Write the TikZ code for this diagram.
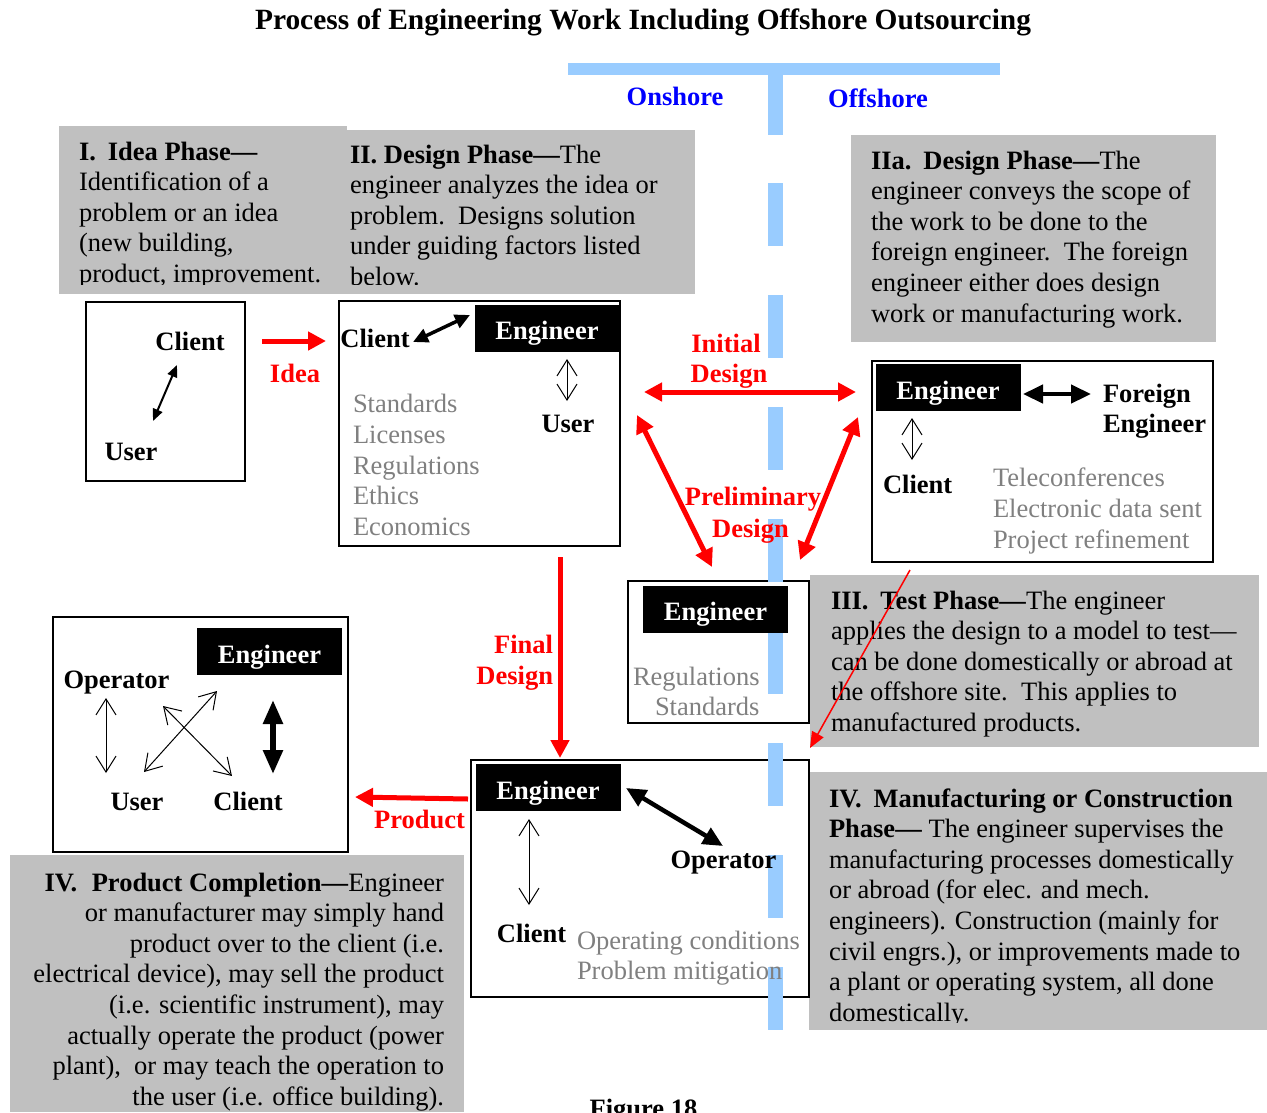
\documentclass[tikz,border=0pt]{standalone}
\usepackage{fontspec}
\setmainfont{Liberation Serif}
\usetikzlibrary{arrows.meta}
\definecolor{shoreblue}{HTML}{99CCFF}
\definecolor{panelgray}{HTML}{C0C0C0}
\definecolor{notegray}{HTML}{808080}
\definecolor{shorelabel}{HTML}{0000FF}
\definecolor{flowred}{HTML}{FF0000}
\newcommand{\fsz}{\fontsize{26.5}{30.6}\selectfont}
\newcommand{\fl}{\rule{0pt}{20pt}}
\begin{document}
\begin{tikzpicture}[x=1pt,y=-1pt,
  every node/.style={inner sep=0pt, outer sep=0pt, font=\fsz},
  panel/.style={fill=panelgray, draw=none},
  frame/.style={draw=black, line width=1.8pt, fill=white},
  engbox/.style={fill=black, text=white, font=\fsz\bfseries, minimum width=145pt, minimum height=47pt, text height=23pt, text depth=0pt},
  role/.style={font=\fsz\bfseries, anchor=base},
  rolew/.style={font=\fsz\bfseries, anchor=base west},
  note/.style={text=notegray, anchor=base west},
  para/.style={align=left, anchor=north west},
  flow/.style={text=flowred, font=\fsz\bfseries, anchor=base},
  shore/.style={text=shorelabel, font=\fsz\bfseries, anchor=base},
  redarrow/.style={draw=flowred, line width=5pt, -{Triangle[length=18pt,width=18pt]}},
  reddouble/.style={draw=flowred, line width=5pt, {Triangle[length=18pt,width=18pt]}-{Triangle[length=18pt,width=18pt]}},
  thinred/.style={draw=flowred, line width=1.5pt, -{Triangle[length=16pt,width=13pt]}},
  openarrow/.style={line width=1pt, {Straight Barb[length=16pt,width=20pt]}-{Straight Barb[length=16pt,width=20pt]}},
  boldarrow/.style={line width=4.5pt, {Triangle[length=20pt,width=18pt]}-{Triangle[length=20pt,width=18pt]}},
  smallboldarrow/.style={line width=3.5pt, {Triangle[length=15pt,width=14pt]}-{Triangle[length=15pt,width=14pt]}},
  bigboldarrow/.style={line width=5.5pt, {Triangle[length=24pt,width=19pt]}-{Triangle[length=24pt,width=19pt]}},
  medarrow/.style={line width=2pt, {Triangle[length=12pt,width=10pt]}-{Triangle[length=12pt,width=10pt]}},
  blueline/.style={draw=shoreblue, line width=15pt}
]
\useasboundingbox (0,0) rectangle (1267,1112);

% ---------- gray panels ----------
\fill[panel] (59,126) rectangle (347,294);
\fill[panel] (347,130) rectangle (695,294);
\fill[panel] (851,135) rectangle (1216,342);
\fill[panel] (810,575) rectangle (1259,747);
\fill[panel] (809,772) rectangle (1267,1030);
\fill[panel] (10,855) rectangle (464,1112);

% ---------- white frames ----------
\draw[frame] (86,302) rectangle (245,481);
\draw[frame] (339,301) rectangle (620,546);
\draw[frame] (872,361) rectangle (1213,562);
\draw[frame] (628,581) rectangle (809,723);
\draw[frame] (471,760) rectangle (809,997);
\draw[frame] (53,617) rectangle (348,852);

% ---------- onshore / offshore divider ----------
\fill[shoreblue] (568,63) rectangle (1000,75);
\fill[shoreblue] (767.5,75) rectangle (782.5,135);
\draw[blueline, dash pattern=on 63pt off 49pt] (775,183) -- (775,1030);

% ---------- title and labels ----------
\node[role, font=\fontsize{29.4}{34}\selectfont\bfseries] (title) at (643,29) {Process of Engineering Work Including Offshore Outsourcing};
\node[shore] (onshore) at (675,105) {Onshore};
\node[shore] (offshore) at (878,107) {Offshore};
\node[role] (figlabel) at (643.5,1117) {Figure 18};

% ---------- panel texts ----------
\begin{scope}
\clip (59,126) rectangle (695,284);
\node[para] (ideatext) at (79,140) {\fl\textbf{I.\hspace{0.45em}Idea Phase—}\\Identification of a\\problem or an idea\\(new building,\\product, improvement.};
\node[para] (designtext) at (350,143) {\fl\textbf{II. Design Phase—}The\\engineer analyzes the idea or\\problem.\ \ Designs solution\\under guiding factors listed\\below.};
\end{scope}
\node[para] (offdesigntext) at (871,149) {\fl\textbf{IIa.\hspace{0.45em}Design Phase—}The\\engineer conveys the scope of\\the work to be done to the\\foreign engineer.\ \ The foreign\\engineer either does design\\work or manufacturing work.};
\node[para] (testtext) at (831,589) {\fl\textbf{III.\hspace{0.45em}Test Phase—}The engineer\\applies the design to a model to test—\\can be done domestically or abroad at\\the offshore site.\ \ This applies to\\manufactured products.};
\begin{scope}
\clip (809,772) rectangle (1267,1022);
\node[para] (mfgtext) at (829,787) {\fl\textbf{IV.\hspace{0.45em}Manufacturing or Construction}\\\textbf{Phase—} The engineer supervises the\\manufacturing processes domestically\\or abroad (for elec. and mech.\\engineers). Construction (mainly for\\civil engrs.), or improvements made to\\a plant or operating system, all done\\domestically.};
\end{scope}
\node[align=right, anchor=north east] (producttext) at (444,871) {\fl\textbf{IV.\hspace{0.55em}Product Completion—}Engineer\\or manufacturer may simply hand\\product over to the client (i.e.\\electrical device), may sell the product\\(i.e. scientific instrument), may\\actually operate the product (power\\plant),\ \ or may teach the operation to\\the user (i.e. office building).};

% ---------- box A : idea ----------
\node[role] (aclient) at (190,350) {Client};
\node[role] (auser) at (131,460) {User};
\coordinate (aA1) at (177,365);
\coordinate (aA2) at (153,421);
\draw[medarrow] (aA1) -- (aA2);

% ---------- box B : design ----------
\node[engbox] (beng) at (547,328) {Engineer};
\node[role] (bclient) at (375,347) {Client};
\node[role] (buser) at (568,432) {User};
\coordinate (bC) at (413,342);
\coordinate (bE) at (470,315);
\draw[smallboldarrow] (bC) -- (bE);
\coordinate (bU1) at (567,359);
\coordinate (bU2) at (567,401);
\draw[openarrow] (bU1) -- (bU2);
\node[note] (bn1) at (353,412) {Standards};
\node[note] (bn2) at (353,443) {Licenses};
\node[note] (bn3) at (353,474) {Regulations};
\node[note] (bn4) at (353,504) {Ethics};
\node[note] (bn5) at (353,535) {Economics};

% ---------- box C : offshore design ----------
\node[engbox] (ceng) at (948,387.5) {Engineer};
\node[rolew] (cforeign1) at (1103,402) {Foreign};
\node[rolew] (cforeign2) at (1103,432) {Engineer};
\node[rolew] (cclient) at (883,493) {Client};
\coordinate (cL) at (1023,394);
\coordinate (cR) at (1091,394);
\draw[boldarrow] (cL) -- (cR);
\coordinate (cU1) at (912,418);
\coordinate (cU2) at (912,460);
\draw[openarrow] (cU1) -- (cU2);
\node[note] (cn1) at (993,486) {Teleconferences};
\node[note] (cn2) at (993,517) {Electronic data sent};
\node[note] (cn3) at (993,548) {Project refinement};

% ---------- box D : test ----------
\node[engbox] (deng) at (715.5,609) {Engineer};
\node[note] (dn1) at (633,685) {Regulations};
\node[note] (dn2) at (655,715) {Standards};

% ---------- box E : manufacturing ----------
\node[engbox] (eeng) at (548,787.5) {Engineer};
\node[role] (eclient) at (531.5,942) {Client};
\node[role] (eoperator) at (723.5,868) {Operator};
\coordinate (eU1) at (529,819);
\coordinate (eU2) at (529,905);
\draw[openarrow] (eU1) -- (eU2);
\coordinate (eO1) at (626,788);
\coordinate (eO2) at (723,846);
\draw[boldarrow] (eO1) -- (eO2);
\node[note] (en1) at (577,949) {Operating conditions};
\node[note] (en2) at (577,979) {Problem mitigation};

% ---------- box F : product ----------
\node[engbox] (feng) at (269.5,651.5) {Engineer};
\node[role] (foperator) at (116.5,688) {Operator};
\node[role] (fuser) at (137,810) {User};
\node[role] (fclient) at (248,810) {Client};
\coordinate (fV1) at (106,698);
\coordinate (fV2) at (106,773);
\draw[openarrow] (fV1) -- (fV2);
\coordinate (fD1) at (217,691);
\coordinate (fD2) at (144,772);
\draw[openarrow] (fD1) -- (fD2);
\coordinate (fD3) at (163,706);
\coordinate (fD4) at (232,776);
\draw[openarrow] (fD3) -- (fD4);
\coordinate (fT1) at (273,700);
\coordinate (fT2) at (273,774);
\draw[bigboldarrow] (fT1) -- (fT2);

% ---------- red flow arrows ----------
\coordinate (idea1) at (262,341);
\coordinate (idea2) at (326,341);
\draw[redarrow] (idea1) -- (idea2);
\node[flow] (idealbl) at (295,382) {Idea};

\coordinate (ini1) at (644,392);
\coordinate (ini2) at (856,392);
\draw[reddouble] (ini1) -- (ini2);
\node[flow] (inilbl1) at (726,352) {Initial};
\node[flow] (inilbl2) at (729,382) {Design};

\coordinate (pl1) at (637,415);
\coordinate (pl2) at (712,567);
\draw[reddouble] (pl1) -- (pl2);
\coordinate (pr1) at (858,417);
\coordinate (pr2) at (800,560);
\draw[reddouble] (pr1) -- (pr2);
\node[flow] (prelbl1) at (753,505) {Preliminary};
\node[flow] (prelbl2) at (750.5,537) {Design};

\coordinate (fin1) at (560,557);
\coordinate (fin2) at (560,758);
\draw[redarrow] (fin1) -- (fin2);
\node[flow, anchor=base east] (finlbl1) at (553,653) {Final};
\node[flow, anchor=base east] (finlbl2) at (553,684) {Design};

\coordinate (prod1) at (468,799);
\coordinate (prod2) at (355,797);
\draw[redarrow] (prod1) -- (prod2);
\node[flow] (prodlbl) at (419.5,828) {Product};

\coordinate (tst1) at (910,570);
\coordinate (tst2) at (810,748);
\draw[thinred] (tst1) -- (tst2);

\end{tikzpicture}
\end{document}
